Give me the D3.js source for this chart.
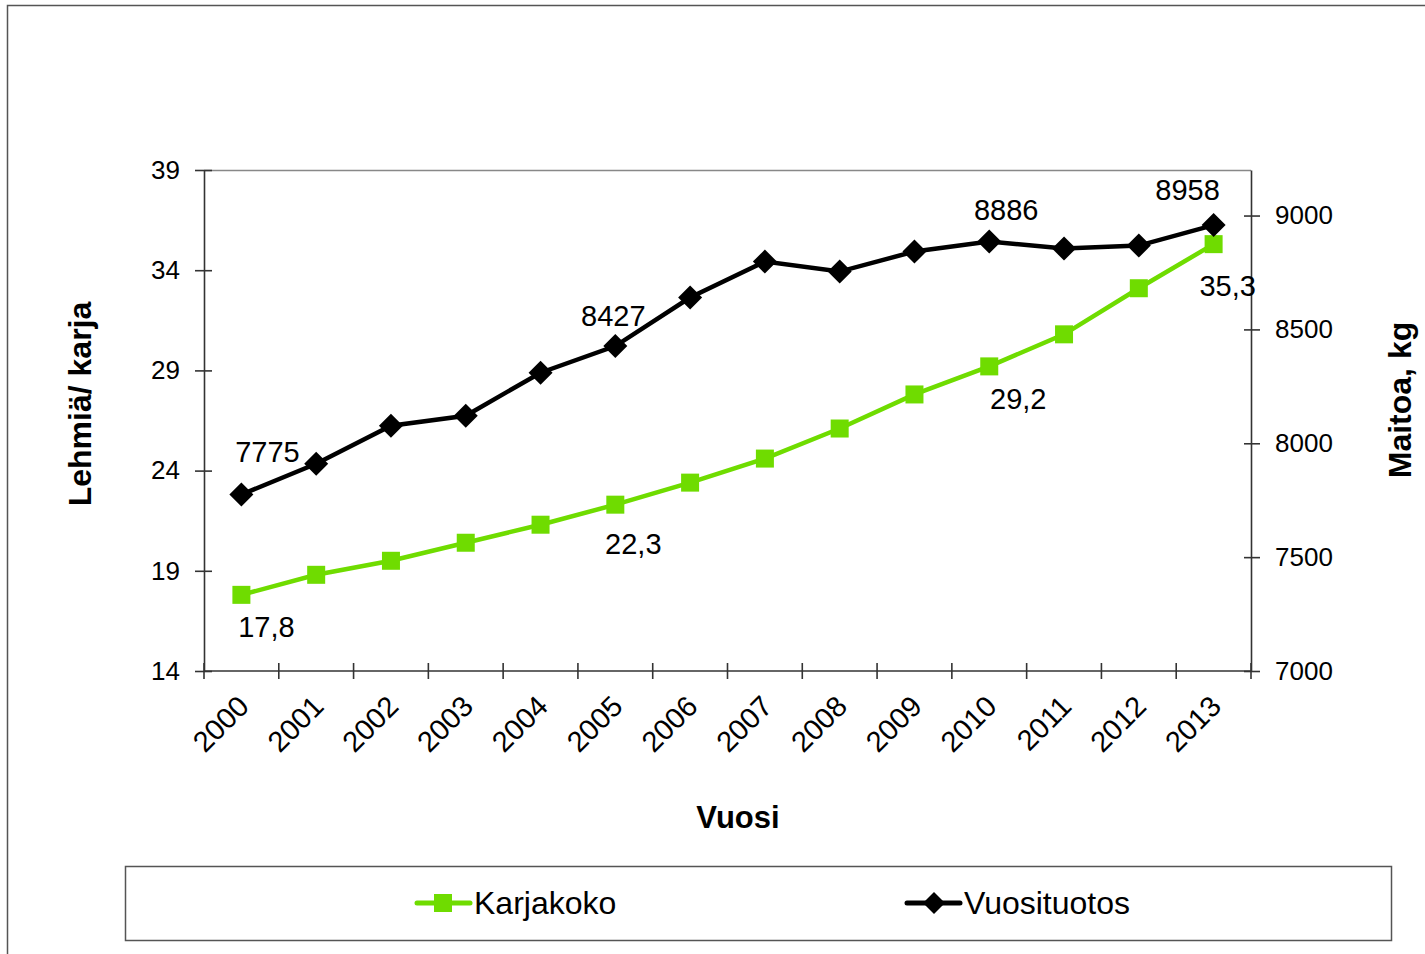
<!DOCTYPE html>
<meta charset="utf-8">
<script src="https://d3js.org/d3.v7.min.js"></script>
<style>
body { margin: 0; background: #fff; }
svg text { font-family: "Liberation Sans", Arial, sans-serif; fill: #000; }
</style>
<body>
<div id="chart"></div>
<script>
// chart data
var years = ["2000","2001","2002","2003","2004","2005","2006","2007","2008","2009","2010","2011","2012","2013"];
var karjakoko = [17.8, 18.8, 19.5, 20.4, 21.3, 22.3, 23.4, 24.6, 26.1, 27.8, 29.2, 30.8, 33.1, 35.3];
var vuosituotos = [7775, 7910, 8077, 8121, 8310, 8427, 8640, 8798, 8754, 8842, 8886, 8855, 8868, 8958];
var leftTicks = [14, 19, 24, 29, 34, 39];
var rightTicks = [7000, 7500, 8000, 8500, 9000];
var labelled = [0, 5, 10, 13];   // points that carry a value label

// label nudges (px) for the shown labels
var nudgeGreen = {0: [25, 42], 5: [18, 49], 10: [29, 43], 13: [14, 52]};
var nudgeBlack = {0: [26, -33], 5: [-2, -20], 10: [17, -22], 13: [-26, -25]};

var W = 1425, H = 954;
var margin = {top: 170, left: 204, right: 174, bottom: 283};
var width = W - margin.left - margin.right,
    height = H - margin.top - margin.bottom;

var svg = d3.select("#chart").append("svg")
  .attr("width", W).attr("height", H);

// outer frame (top + left edges visible)
svg.append("path")
  .attr("d", "M7.5," + H + "V5.5H" + W)
  .attr("fill", "none").attr("stroke", "#555").attr("stroke-width", 1.5);

var g = svg.append("g").attr("transform", "translate(" + margin.left + "," + margin.top + ")");

var x = d3.scaleBand().domain(years).range([0, width]);
var yL = d3.scaleLinear().domain([14, 39]).range([height, 0]);
var yR = d3.scaleLinear().domain([7000, 9200]).range([height, 0]);

// plot top border
g.append("line").attr("x1", 0).attr("x2", width).attr("y1", 0.5).attr("y2", 0.5)
  .attr("stroke", "#888").attr("stroke-width", 1.5);

// left axis
var axL = g.append("g").call(d3.axisLeft(yL).tickValues(leftTicks).tickSize(9).tickSizeOuter(0).tickPadding(15));
axL.selectAll("line").attr("x2", -9).attr("x1", 8);
axL.selectAll("text").style("font-size", "26px");

// right axis
var axR = g.append("g").attr("transform", "translate(" + width + ",0)")
  .call(d3.axisRight(yR).tickValues(rightTicks).tickFormat(d3.format("d")).tickSize(9).tickSizeOuter(0).tickPadding(15));
axR.selectAll("line").attr("x2", 9).attr("x1", -7);
axR.selectAll("text").style("font-size", "26px");

// bottom axis, ticks at category boundaries
var bounds = years.map(function(d) { return x(d); }).concat([width]);
var axB = g.append("g").attr("transform", "translate(0," + height + ")");
axB.append("line").attr("x1", 0).attr("x2", width);
axB.selectAll(".tk").data(bounds).enter().append("line")
  .attr("x1", function(d) { return d; }).attr("x2", function(d) { return d; })
  .attr("y1", -8).attr("y2", 8);
axB.selectAll("text").data(years).enter().append("text")
  .attr("transform", function(d) { return "translate(" + (x(d) + x.bandwidth() / 2 + 2) + ",30) rotate(-45)"; })
  .attr("text-anchor", "end")
  .attr("dy", "0.35em")
  .style("font-size", "29px")
  .text(function(d) { return d; });

[axL, axR, axB].forEach(function(a) {
  a.selectAll("line, path.domain").attr("stroke", "#333").attr("stroke-width", 1.6);
});

var cx = function(i) { return x(years[i]) + x.bandwidth() / 2; };

// Karjakoko (green squares, left axis)
var green = "#6fdc00";
g.append("path").datum(karjakoko)
  .attr("fill", "none").attr("stroke", green).attr("stroke-width", 4.5)
  .attr("d", d3.line().x(function(d, i) { return cx(i); }).y(function(d) { return yL(d); }));
g.selectAll(".sq").data(karjakoko).enter().append("rect")
  .attr("x", function(d, i) { return cx(i) - 9; })
  .attr("y", function(d) { return yL(d) - 9; })
  .attr("width", 18).attr("height", 18).attr("fill", green);

// Vuosituotos (black diamonds, right axis)
g.append("path").datum(vuosituotos)
  .attr("fill", "none").attr("stroke", "#000").attr("stroke-width", 4.5)
  .attr("d", d3.line().x(function(d, i) { return cx(i); }).y(function(d) { return yR(d); }));
g.selectAll(".dm").data(vuosituotos).enter().append("path")
  .attr("transform", function(d, i) { return "translate(" + cx(i) + "," + yR(d) + ")"; })
  .attr("d", "M0,-12L12,0L0,12L-12,0Z").attr("fill", "#000");

// value labels
labelled.forEach(function(i) {
  g.append("text")
    .attr("x", cx(i) + nudgeGreen[i][0]).attr("y", yL(karjakoko[i]) + nudgeGreen[i][1])
    .attr("text-anchor", "middle").style("font-size", "29px")
    .text(String(karjakoko[i]).replace(".", ","));
  g.append("text")
    .attr("x", cx(i) + nudgeBlack[i][0]).attr("y", yR(vuosituotos[i]) + nudgeBlack[i][1])
    .attr("text-anchor", "middle").style("font-size", "29px")
    .text(vuosituotos[i]);
});

// axis titles
svg.append("text").attr("x", 738).attr("y", 828).attr("text-anchor", "middle")
  .style("font-size", "31px").style("font-weight", "bold").text("Vuosi");
svg.append("text").attr("transform", "translate(91,404) rotate(-90)").attr("text-anchor", "middle")
  .style("font-size", "32px").style("font-weight", "bold").text("Lehmiä/ karja");
svg.append("text").attr("transform", "translate(1411,400) rotate(-90)").attr("text-anchor", "middle")
  .style("font-size", "32px").style("font-weight", "bold").text("Maitoa, kg");

// legend
svg.append("rect").attr("x", 125.5).attr("y", 866.5).attr("width", 1266).attr("height", 74)
  .attr("fill", "#fff").attr("stroke", "#555").attr("stroke-width", 1.5);
var lg1 = svg.append("g").attr("transform", "translate(415,903)");
lg1.append("line").attr("x1", 2).attr("x2", 55).attr("stroke", green).attr("stroke-width", 5).attr("stroke-linecap", "round");
lg1.append("rect").attr("x", 19).attr("y", -9).attr("width", 18).attr("height", 18).attr("fill", green);
lg1.append("text").attr("x", 59).attr("y", 11).style("font-size", "32px").text("Karjakoko");
var lg2 = svg.append("g").attr("transform", "translate(905,903)");
lg2.append("line").attr("x1", 2).attr("x2", 55).attr("stroke", "#000").attr("stroke-width", 5).attr("stroke-linecap", "round");
lg2.append("path").attr("transform", "translate(29,0)").attr("d", "M0,-11L11,0L0,11L-11,0Z").attr("fill", "#000");
lg2.append("text").attr("x", 59).attr("y", 11).style("font-size", "32px").text("Vuosituotos");
</script>
</body>
